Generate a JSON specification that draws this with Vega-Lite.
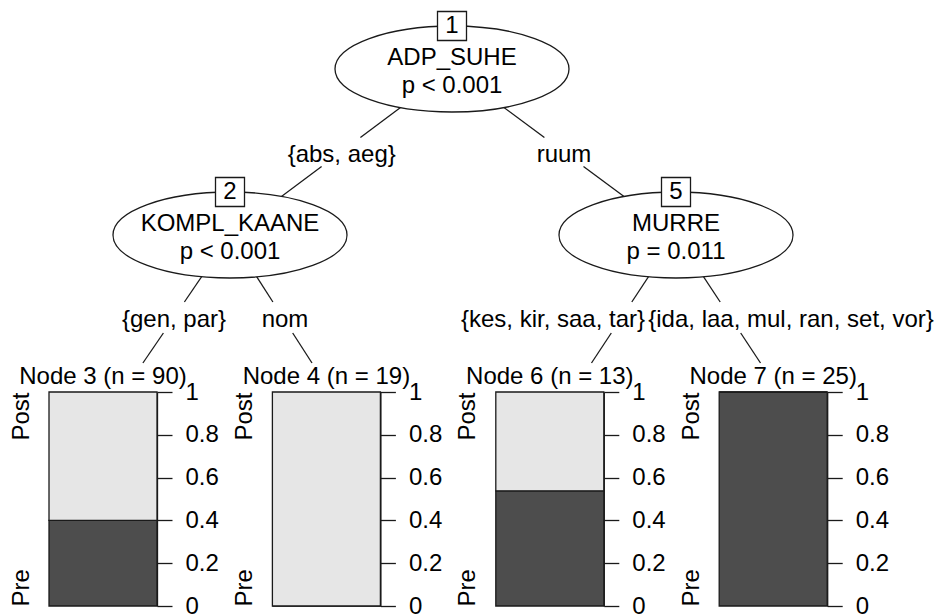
{
  "$schema": "https://vega.github.io/schema/vega-lite/v6.json",
  "padding": 0,
  "autosize": {"type": "pad"},
  "background": "white",
  "config": {"view": {"stroke": null}, "font": "Liberation Sans"},
  "datasets": {
    "nodes": [
      {"id": 1, "x": 452, "y": 69, "var": "ADP_SUHE", "p": "p < 0.001"},
      {"id": 2, "x": 230, "y": 235, "var": "KOMPL_KAANE", "p": "p < 0.001"},
      {"id": 5, "x": 676, "y": 235, "var": "MURRE", "p": "p = 0.011"}
    ],
    "segments": [
      {"edge": "1-2", "x": 452, "y": 69, "x2": 360.4, "y2": 137.5},
      {"edge": "1-2", "x": 321.6, "y": 166.5, "x2": 230, "y2": 235},
      {"edge": "1-5", "x": 452, "y": 69, "x2": 544.4, "y2": 137.5},
      {"edge": "1-5", "x": 583.5, "y": 166.5, "x2": 676, "y2": 235},
      {"edge": "2-3", "x": 230, "y": 235, "x2": 184.4, "y2": 302},
      {"edge": "2-3", "x": 163.4, "y": 333, "x2": 142.9, "y2": 363},
      {"edge": "2-4", "x": 230, "y": 235, "x2": 272.9, "y2": 302},
      {"edge": "2-4", "x": 292.7, "y": 333, "x2": 312, "y2": 363},
      {"edge": "5-6", "x": 676, "y": 235, "x2": 631.8, "y2": 302},
      {"edge": "5-6", "x": 611.3, "y": 333, "x2": 591.5, "y2": 363},
      {"edge": "5-7", "x": 676, "y": 235, "x2": 720.2, "y2": 302},
      {"edge": "5-7", "x": 740.7, "y": 333, "x2": 760.5, "y2": 363}
    ],
    "edgeLabels": [
      {"label": "{abs, aeg}", "x": 341.7, "y": 161.5},
      {"label": "ruum", "x": 564, "y": 161.5},
      {"label": "{gen, par}", "x": 174, "y": 326.7},
      {"label": "nom", "x": 285, "y": 326.7},
      {"label": "{kes, kir, saa, tar}", "x": 553, "y": 326.7},
      {"label": "{ida, laa, mul, ran, set, vor}", "x": 791, "y": 326.7}
    ],
    "bars": [
      {"node": 3, "class": "Pre", "prop": 0.4},
      {"node": 3, "class": "Post", "prop": 0.6},
      {"node": 4, "class": "Pre", "prop": 0},
      {"node": 4, "class": "Post", "prop": 1},
      {"node": 6, "class": "Pre", "prop": 0.538},
      {"node": 6, "class": "Post", "prop": 0.462},
      {"node": 7, "class": "Pre", "prop": 1},
      {"node": 7, "class": "Post", "prop": 0}
    ]
  },
  "spacing": 1,
  "vconcat": [
    {
      "width": 892,
      "height": 364,
      "encoding": {
        "x": {"field": "x", "type": "quantitative", "scale": {"domain": [49, 941], "nice": false, "zero": false}, "axis": null},
        "y": {"field": "y", "type": "quantitative", "scale": {"domain": [0, 364], "nice": false, "zero": false, "reverse": true}, "axis": null}
      },
      "layer": [
        {"data": {"name": "segments"}, "mark": {"type": "rule", "color": "#1a1a1a", "strokeWidth": 1.3}, "encoding": {"x2": {"field": "x2"}, "y2": {"field": "y2"}}},
        {"data": {"name": "nodes"}, "mark": {"type": "point", "shape": "M-1,0C-1,-0.203,-0.5523,-0.3675,0,-0.3675C0.5523,-0.3675,1,-0.203,1,0C1,0.203,0.5523,0.3675,0,0.3675C-0.5523,0.3675,-1,0.203,-1,0Z", "size": 54756, "filled": true, "fill": "white", "stroke": "#1a1a1a", "strokeWidth": 1.3, "opacity": 1}},
        {"data": {"name": "nodes"}, "mark": {"type": "point", "shape": "square", "size": 841, "yOffset": -43, "filled": true, "fill": "white", "stroke": "#1a1a1a", "strokeWidth": 1.3, "opacity": 1}},
        {"data": {"name": "nodes"}, "mark": {"type": "text", "yOffset": -43, "baseline": "middle", "fontSize": 24, "font": "Liberation Sans", "color": "black"}, "encoding": {"text": {"field": "id", "type": "nominal"}}},
        {"data": {"name": "nodes"}, "mark": {"type": "text", "dy": -4, "baseline": "alphabetic", "fontSize": 24, "font": "Liberation Sans", "color": "black"}, "encoding": {"text": {"field": "var", "type": "nominal"}}},
        {"data": {"name": "nodes"}, "mark": {"type": "text", "dy": 23.5, "baseline": "alphabetic", "fontSize": 24, "font": "Liberation Sans", "color": "black"}, "encoding": {"text": {"field": "p", "type": "nominal"}}},
        {"data": {"name": "edgeLabels"}, "mark": {"type": "text", "baseline": "alphabetic", "fontSize": 24, "font": "Liberation Sans", "color": "black"}, "encoding": {"text": {"field": "label", "type": "nominal"}}}
      ]
    },
    {
      "spacing": 4.4,
      "hconcat": [
        {
          "width": 108, "height": 214,
          "title": {"text": "Node 3 (n = 90)", "fontSize": 24, "font": "Liberation Sans", "fontWeight": "normal", "color": "black", "anchor": "middle", "frame": "group", "baseline": "alphabetic", "offset": -28},
          "data": {"name": "bars"},
          "transform": [{"filter": "datum.node == 3"}],
          "encoding": {
            "x": {"field": "node", "type": "nominal", "scale": {"paddingInner": 0, "paddingOuter": 0}, "axis": null},
            "color": {"field": "class", "type": "nominal", "scale": {"domain": ["Pre", "Post"], "range": ["#4D4D4D", "#E6E6E6"]}, "legend": null},
            "order": {"field": "class", "sort": "descending"}
          },
          "layer": [
            {"mark": {"type": "bar", "stroke": "#1a1a1a", "strokeWidth": 1.3},
             "encoding": {"y": {"field": "prop", "type": "quantitative", "stack": "zero", "scale": {"domain": [0, 1], "nice": false},
               "axis": {"orient": "right", "values": [0, 0.2, 0.4, 0.6, 0.8, 1], "format": "~g", "tickSize": 15, "tickColor": "#1a1a1a", "tickWidth": 1.3, "domainColor": "#1a1a1a", "domainWidth": 1.3, "labelPadding": 13, "labelFontSize": 24, "labelFont": "Liberation Sans", "labelColor": "black", "grid": false, "title": null, "minExtent": 62, "maxExtent": 62, "labelOverlap": false, "labelBound": false, "labelFlush": false}}}},
            {"mark": {"type": "bar", "opacity": 0},
             "encoding": {"y": {"field": "prop", "type": "quantitative", "stack": "zero", "scale": {"domain": [0, 1], "nice": false},
               "axis": {"orient": "left", "values": [0, 1], "labelExpr": "datum.value == 0 ? 'Pre' : 'Post'", "labelAngle": -90, "labelAlign": {"condition": {"test": "datum.value == 0", "value": "left"}, "value": "right"}, "labelBaseline": "alphabetic", "ticks": false, "tickSize": 0, "domain": false, "labelPadding": 21, "labelFontSize": 24, "labelFont": "Liberation Sans", "labelColor": "black", "grid": false, "title": null, "minExtent": 49, "maxExtent": 49, "labelOverlap": false, "labelBound": false, "labelFlush": false}}}}
          ],
          "resolve": {"axis": {"y": "independent"}}
        },
        {
          "width": 108, "height": 214,
          "title": {"text": "Node 4 (n = 19)", "fontSize": 24, "font": "Liberation Sans", "fontWeight": "normal", "color": "black", "anchor": "middle", "frame": "group", "baseline": "alphabetic", "offset": -28},
          "data": {"name": "bars"},
          "transform": [{"filter": "datum.node == 4"}],
          "encoding": {
            "x": {"field": "node", "type": "nominal", "scale": {"paddingInner": 0, "paddingOuter": 0}, "axis": null},
            "color": {"field": "class", "type": "nominal", "scale": {"domain": ["Pre", "Post"], "range": ["#4D4D4D", "#E6E6E6"]}, "legend": null},
            "order": {"field": "class", "sort": "descending"}
          },
          "layer": [
            {"mark": {"type": "bar", "stroke": "#1a1a1a", "strokeWidth": 1.3},
             "encoding": {"y": {"field": "prop", "type": "quantitative", "stack": "zero", "scale": {"domain": [0, 1], "nice": false},
               "axis": {"orient": "right", "values": [0, 0.2, 0.4, 0.6, 0.8, 1], "format": "~g", "tickSize": 15, "tickColor": "#1a1a1a", "tickWidth": 1.3, "domainColor": "#1a1a1a", "domainWidth": 1.3, "labelPadding": 13, "labelFontSize": 24, "labelFont": "Liberation Sans", "labelColor": "black", "grid": false, "title": null, "minExtent": 62, "maxExtent": 62, "labelOverlap": false, "labelBound": false, "labelFlush": false}}}},
            {"mark": {"type": "bar", "opacity": 0},
             "encoding": {"y": {"field": "prop", "type": "quantitative", "stack": "zero", "scale": {"domain": [0, 1], "nice": false},
               "axis": {"orient": "left", "values": [0, 1], "labelExpr": "datum.value == 0 ? 'Pre' : 'Post'", "labelAngle": -90, "labelAlign": {"condition": {"test": "datum.value == 0", "value": "left"}, "value": "right"}, "labelBaseline": "alphabetic", "ticks": false, "tickSize": 0, "domain": false, "labelPadding": 21, "labelFontSize": 24, "labelFont": "Liberation Sans", "labelColor": "black", "grid": false, "title": null, "minExtent": 49, "maxExtent": 49, "labelOverlap": false, "labelBound": false, "labelFlush": false}}}}
          ],
          "resolve": {"axis": {"y": "independent"}}
        },
        {
          "width": 108, "height": 214,
          "title": {"text": "Node 6 (n = 13)", "fontSize": 24, "font": "Liberation Sans", "fontWeight": "normal", "color": "black", "anchor": "middle", "frame": "group", "baseline": "alphabetic", "offset": -28},
          "data": {"name": "bars"},
          "transform": [{"filter": "datum.node == 6"}],
          "encoding": {
            "x": {"field": "node", "type": "nominal", "scale": {"paddingInner": 0, "paddingOuter": 0}, "axis": null},
            "color": {"field": "class", "type": "nominal", "scale": {"domain": ["Pre", "Post"], "range": ["#4D4D4D", "#E6E6E6"]}, "legend": null},
            "order": {"field": "class", "sort": "descending"}
          },
          "layer": [
            {"mark": {"type": "bar", "stroke": "#1a1a1a", "strokeWidth": 1.3},
             "encoding": {"y": {"field": "prop", "type": "quantitative", "stack": "zero", "scale": {"domain": [0, 1], "nice": false},
               "axis": {"orient": "right", "values": [0, 0.2, 0.4, 0.6, 0.8, 1], "format": "~g", "tickSize": 15, "tickColor": "#1a1a1a", "tickWidth": 1.3, "domainColor": "#1a1a1a", "domainWidth": 1.3, "labelPadding": 13, "labelFontSize": 24, "labelFont": "Liberation Sans", "labelColor": "black", "grid": false, "title": null, "minExtent": 62, "maxExtent": 62, "labelOverlap": false, "labelBound": false, "labelFlush": false}}}},
            {"mark": {"type": "bar", "opacity": 0},
             "encoding": {"y": {"field": "prop", "type": "quantitative", "stack": "zero", "scale": {"domain": [0, 1], "nice": false},
               "axis": {"orient": "left", "values": [0, 1], "labelExpr": "datum.value == 0 ? 'Pre' : 'Post'", "labelAngle": -90, "labelAlign": {"condition": {"test": "datum.value == 0", "value": "left"}, "value": "right"}, "labelBaseline": "alphabetic", "ticks": false, "tickSize": 0, "domain": false, "labelPadding": 21, "labelFontSize": 24, "labelFont": "Liberation Sans", "labelColor": "black", "grid": false, "title": null, "minExtent": 49, "maxExtent": 49, "labelOverlap": false, "labelBound": false, "labelFlush": false}}}}
          ],
          "resolve": {"axis": {"y": "independent"}}
        },
        {
          "width": 108, "height": 214,
          "title": {"text": "Node 7 (n = 25)", "fontSize": 24, "font": "Liberation Sans", "fontWeight": "normal", "color": "black", "anchor": "middle", "frame": "group", "baseline": "alphabetic", "offset": -28},
          "data": {"name": "bars"},
          "transform": [{"filter": "datum.node == 7"}],
          "encoding": {
            "x": {"field": "node", "type": "nominal", "scale": {"paddingInner": 0, "paddingOuter": 0}, "axis": null},
            "color": {"field": "class", "type": "nominal", "scale": {"domain": ["Pre", "Post"], "range": ["#4D4D4D", "#E6E6E6"]}, "legend": null},
            "order": {"field": "class", "sort": "descending"}
          },
          "layer": [
            {"mark": {"type": "bar", "stroke": "#1a1a1a", "strokeWidth": 1.3},
             "encoding": {"y": {"field": "prop", "type": "quantitative", "stack": "zero", "scale": {"domain": [0, 1], "nice": false},
               "axis": {"orient": "right", "values": [0, 0.2, 0.4, 0.6, 0.8, 1], "format": "~g", "tickSize": 15, "tickColor": "#1a1a1a", "tickWidth": 1.3, "domainColor": "#1a1a1a", "domainWidth": 1.3, "labelPadding": 13, "labelFontSize": 24, "labelFont": "Liberation Sans", "labelColor": "black", "grid": false, "title": null, "minExtent": 62, "maxExtent": 62, "labelOverlap": false, "labelBound": false, "labelFlush": false}}}},
            {"mark": {"type": "bar", "opacity": 0},
             "encoding": {"y": {"field": "prop", "type": "quantitative", "stack": "zero", "scale": {"domain": [0, 1], "nice": false},
               "axis": {"orient": "left", "values": [0, 1], "labelExpr": "datum.value == 0 ? 'Pre' : 'Post'", "labelAngle": -90, "labelAlign": {"condition": {"test": "datum.value == 0", "value": "left"}, "value": "right"}, "labelBaseline": "alphabetic", "ticks": false, "tickSize": 0, "domain": false, "labelPadding": 21, "labelFontSize": 24, "labelFont": "Liberation Sans", "labelColor": "black", "grid": false, "title": null, "minExtent": 49, "maxExtent": 49, "labelOverlap": false, "labelBound": false, "labelFlush": false}}}}
          ],
          "resolve": {"axis": {"y": "independent"}}
        }
      ]
    }
  ]
}
